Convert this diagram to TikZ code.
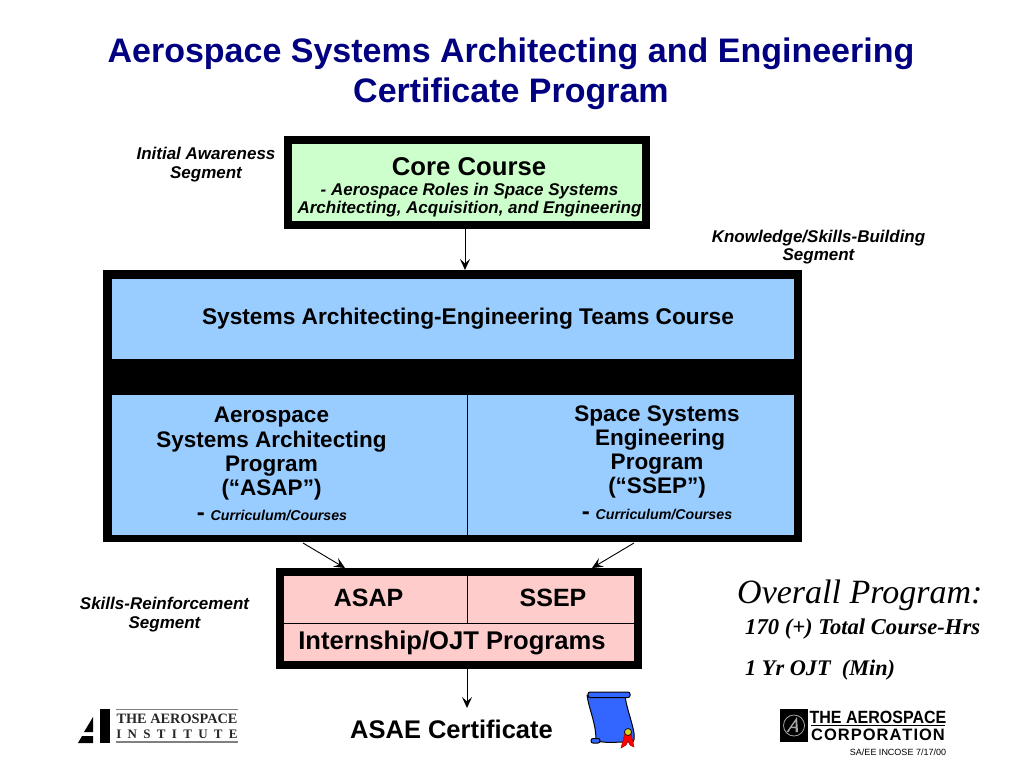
\documentclass[tikz,border=0pt]{standalone}
\usepackage{fontspec}
\setmainfont{Liberation Sans}
\newfontfamily\serifface{Liberation Serif}
\usetikzlibrary{arrows.meta}
\definecolor{titleblue}{RGB}{0,0,128}
\definecolor{coregreen}{RGB}{204,255,204}
\definecolor{cellblue}{RGB}{153,204,255}
\definecolor{cellpink}{RGB}{255,204,204}
\definecolor{scrollblue}{RGB}{51,102,255}
\newcommand{\fs}[1]{\fontsize{#1}{\dimexpr#1pt*6/5\relax}\selectfont}
\tikzset{
	heavybox/.style={draw=black,line width=8pt,inner sep=0pt},
	cell/.style={draw=black,line width=.8pt,inner sep=0pt},
	arrowline/.style={draw=black,line width=.9pt,-{Stealth[length=11pt,width=10pt,inset=4.5pt]}},
	sidelabel/.style={align=center,inner sep=0pt,font=\bfseries\itshape\fs{17}},
	celltext/.style={align=center,inner sep=0pt,font=\bfseries\fs{22.5}}
}
\begin{document}
\begin{tikzpicture}[x=1pt,y=-1pt]
	\useasboundingbox (0,0) rectangle (1024,768);
	% title
	\node[align=center,inner sep=0pt,text=titleblue,font=\bfseries\fs{34}] (title) at (511,73.5) {Aerospace Systems Architecting and Engineering\\[-.8pt]Certificate Program};
	% boxes
	\node[heavybox,fill=coregreen,minimum width=358pt,minimum height=85pt] (core) at (467,182.5) {};
	\node[heavybox,fill=black,minimum width=691pt,minimum height=264pt] (program) at (452.5,406) {};
	\node[cell,fill=cellblue,minimum width=683pt,minimum height=81pt] (teams) at (452.5,318.5) {};
	\node[cell,fill=cellblue,minimum width=356pt,minimum height=141pt] (asapcell) at (289,464.5) {};
	\node[cell,fill=cellblue,minimum width=327pt,minimum height=141pt] (ssepcell) at (630.5,464.5) {};
	\node[heavybox,fill=cellpink,minimum width=358pt,minimum height=93pt] (practice) at (459,618.5) {};
	\node[cell,draw=none,minimum width=183pt,minimum height=47pt] (asapojt) at (375.5,599.5) {};
	\node[cell,draw=none,minimum width=167pt,minimum height=47pt] (ssepojt) at (550.5,599.5) {};
	\draw[line width=1pt] (asapojt.north east) -- (asapojt.south east);
	\draw[line width=1pt] (asapojt.south west) -- (ssepojt.south east);
	% box texts
	\node[inner sep=0pt,font=\bfseries\fs{25.7}] (coretext) at (469,167) {Core Course};
	\node[align=center,inner sep=0pt,font=\bfseries\itshape\fs{17}] (coresub) at (469.5,200) {- Aerospace Roles in Space Systems\\[-2.4pt]Architecting, Acquisition, and Engineering};
	\node[inner sep=0pt,font=\bfseries\fs{22.7}] (teamstext) at (468,319) {Systems Architecting-Engineering Teams Course};
	\node[celltext] (asaptext) at (271.5,454) {Aerospace\\[-2.7pt]Systems Architecting\\[-2.7pt]Program\\[-2.7pt](“ASAP”)};
	\node[celltext] (sseptext) at (657,452) {Space Systems\\[-2.7pt]\hspace*{6pt}Engineering\\[-2.7pt]Program\\[-2.7pt](“SSEP”)};
	\node[inner sep=0pt] (asapcourses) at (272,515) {{\bfseries\fs{24}-}\hspace{3pt} {\bfseries\itshape\fs{14.2}Curriculum/Courses}};
	\node[inner sep=0pt] (ssepcourses) at (657,514) {{\bfseries\fs{24}-}\hspace{3pt} {\bfseries\itshape\fs{14.2}Curriculum/Courses}};
	\node[inner sep=0pt,font=\bfseries\fs{25}] (asapname) at (368.5,598) {ASAP};
	\node[inner sep=0pt,font=\bfseries\fs{25}] (ssepname) at (553,598) {SSEP};
	\node[inner sep=0pt,font=\bfseries\fs{25.6}] (ojttext) at (452,642.5) {Internship/OJT Programs};
	% side labels
	\node[sidelabel] (initial) at (206,164.5) {Initial Awareness\\[-2pt]Segment};
	\node[sidelabel] (building) at (818.5,247) {Knowledge/Skills-Building\\[-2pt]Segment};
	\node[sidelabel] (reinforce) at (164.5,614.5) {Skills-Reinforcement\\[-2pt]Segment};
	% overall
	\node[anchor=west,inner sep=0pt,font=\serifface\itshape\fs{34}] (overall) at (737,595) {Overall Program:};
	\node[anchor=west,inner sep=0pt,font=\serifface\bfseries\itshape\fs{22.6}] (hours) at (745,629) {170 (+) Total Course-Hrs};
	\node[anchor=west,inner sep=0pt,font=\serifface\bfseries\itshape\fs{22.3}] (ojtmin) at (745,670) {1 Yr OJT\ \ (Min)};
	% certificate
	\node[inner sep=0pt,font=\bfseries\fs{25.5}] (certificate) at (451.5,729) {ASAE Certificate};
	% arrows
	\coordinate (asaphead) at (345,568);
	\coordinate (asaptail) at (303,543);
	\coordinate (ssephead) at (592,568);
	\coordinate (sseptail) at (634,543);
	\coordinate (certhead) at (467,708);
	\draw[arrowline] ([xshift=-2pt]core.south) -- ([xshift=12.5pt]program.north);
	\draw[arrowline] (asaptail) -- (asaphead);
	\draw[arrowline] (sseptail) -- (ssephead);
	\draw[arrowline] ([xshift=8pt]practice.south) -- (certhead);
	% scroll
	\draw[fill=scrollblue,line width=1pt,line join=round] (587,695) .. controls (589,710) and (596,722) .. (596,741) .. controls (610,744) and (624,741) .. (633,742) .. controls (638,736) and (627,712) .. (625,696) -- cycle;
	\draw[fill=scrollblue,line width=1pt,rounded corners=2pt] (588,692) rectangle (630,697.5);
	\draw[fill=scrollblue,line width=1pt,rounded corners=2pt] (591,738.5) rectangle (600,743);
	\draw[fill=red,draw=red!70!black,line width=.5pt] (625,733) -- (621,748) -- (626,745) -- (628,741) -- (630,745) -- (634,747) -- (631,733) -- cycle;
	\draw[fill=yellow!85!black,line width=.7pt] (628,732) circle (3.5);
	% institute logo
	\fill[black] (100,709) rectangle (110,743);
	\fill[black] (93,717) -- (93,732) -- (84,732) -- cycle;
	\fill[black] (82,736) -- (93,736) -- (93,743) -- (78,743) -- cycle;
	\draw[gray,line width=1.2pt] (116,709.5) -- (238,709.5);
	\draw[gray,line width=1.2pt] (116,742) -- (238,742);
	\node[inner sep=0pt,font=\serifface\bfseries\fs{14.3},text=black!85] (instname) at (177,719) {THE AEROSPACE};
	\node[inner sep=0pt,font=\serifface\bfseries\fs{13},text=black!85] (instword) at (177,734) {I\hspace{6.3pt}N\hspace{6.3pt}S\hspace{6.3pt}T\hspace{6.3pt}I\hspace{6.3pt}T\hspace{6.3pt}U\hspace{6.3pt}T\hspace{6.3pt}E};
	% corporation logo
	\fill[black] (780,709) rectangle (808,742);
	\draw[gray!70,line width=.8pt] (794,725.5) circle (10.5);
	\fill[gray!70] (797,717) -- (798,732) -- (795.5,732) -- (795.5,728) -- (791,728) -- (788.5,732) -- (786.5,732) -- cycle;
	\fill[black] (795.5,722) -- (795.5,726.5) -- (792,726.5) -- cycle;
	\node[inner sep=0pt,font=\bfseries\fs{17.7},transform shape,xscale=.905] (corpname) at (878,717.5) {THE AEROSPACE};
	\draw[line width=1.5pt] (811,725.5) -- (945,725.5);
	\node[inner sep=0pt,font=\bfseries\fs{16.5}] (corpword) at (878,735) {C\hspace{1pt}O\hspace{1pt}R\hspace{1pt}P\hspace{1pt}O\hspace{1pt}R\hspace{1pt}A\hspace{1pt}T\hspace{1pt}I\hspace{1pt}O\hspace{1pt}N};
	\node[inner sep=0pt,font=\fs{9}] (stamp) at (898,752) {SA/EE INCOSE 7/17/00};
\end{tikzpicture}
\end{document}
